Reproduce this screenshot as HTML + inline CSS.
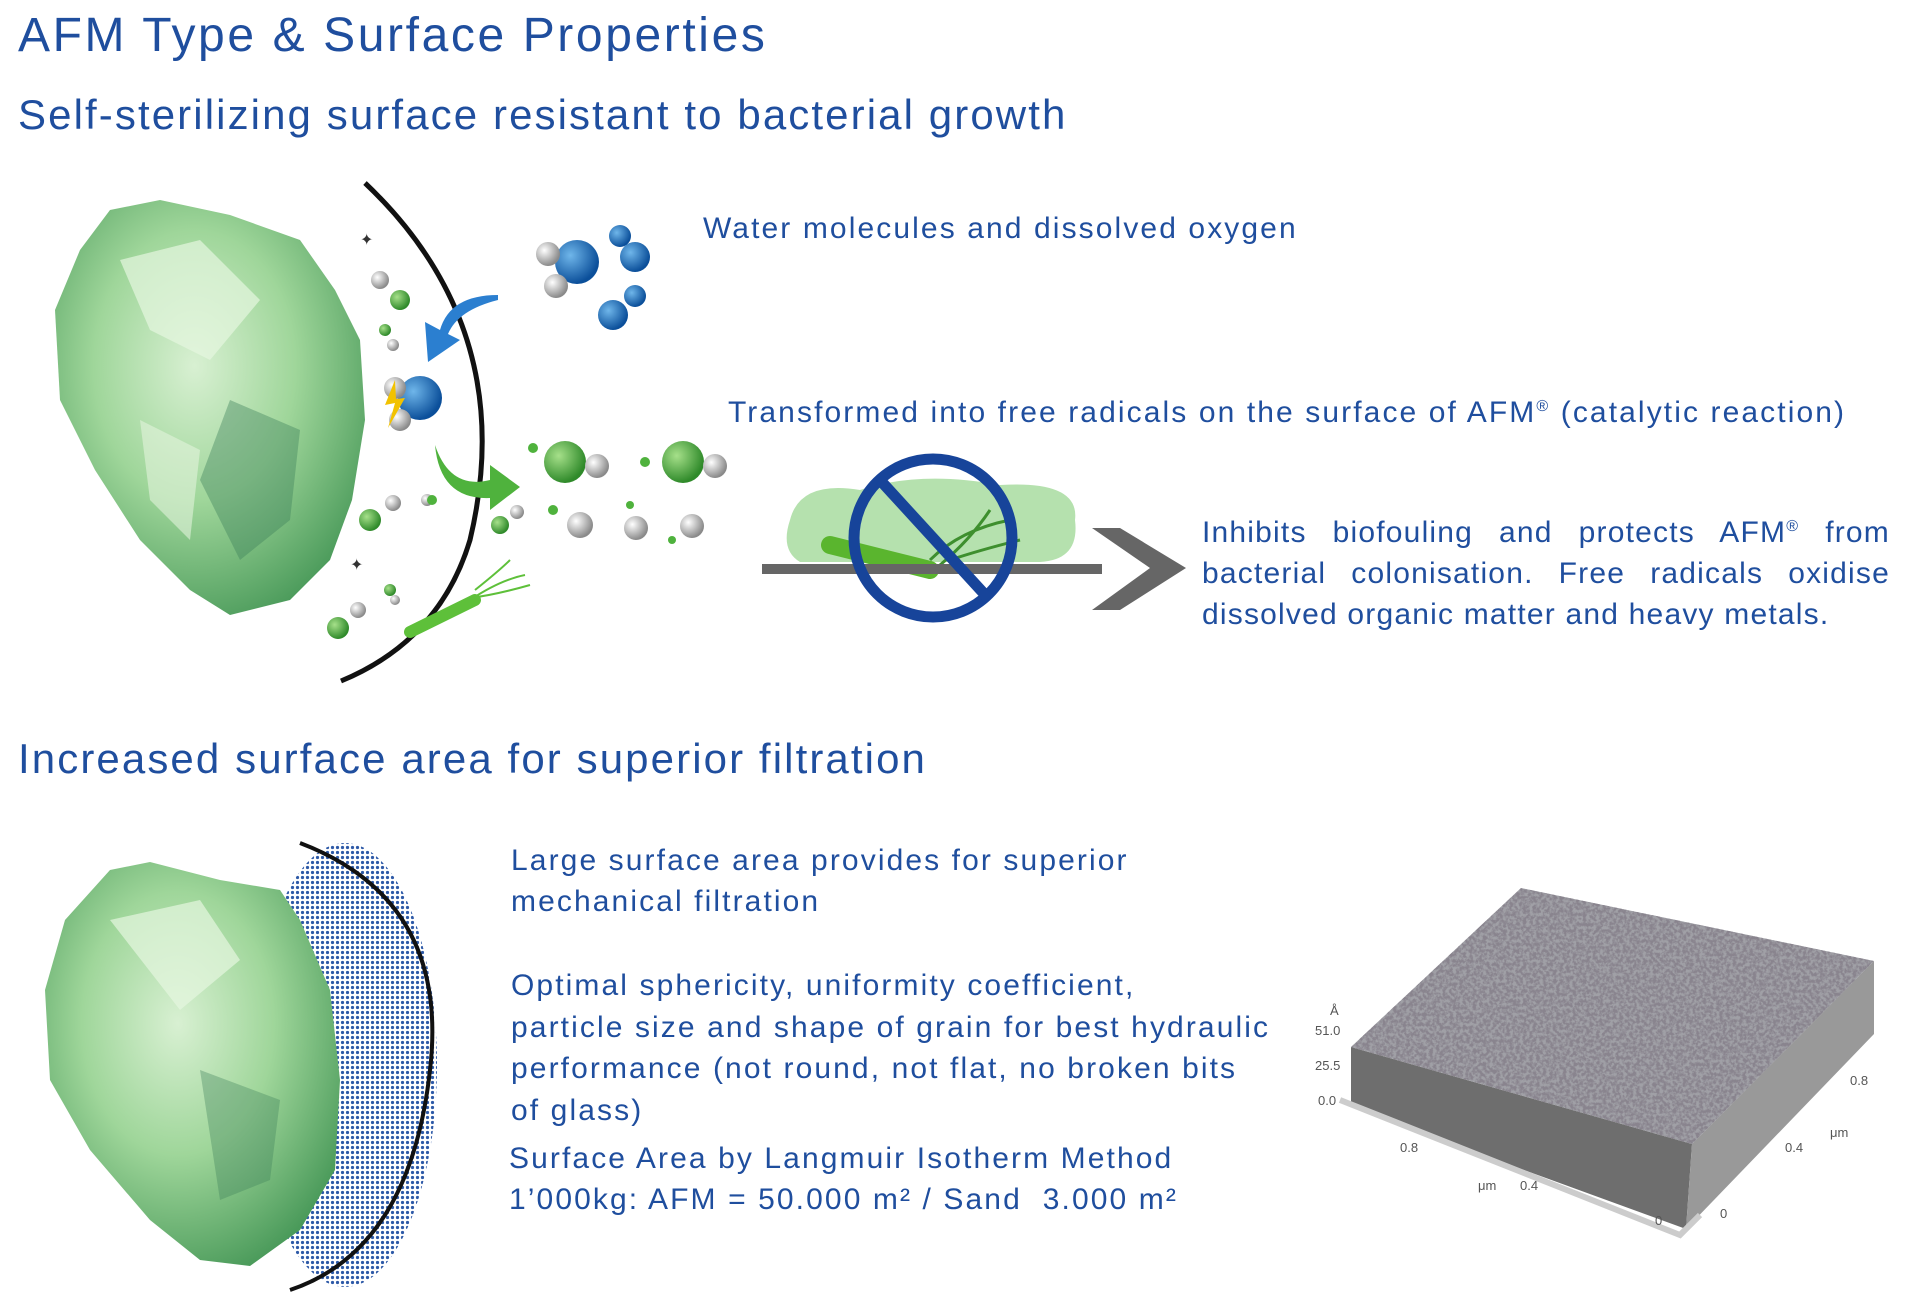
<!DOCTYPE html>
<html><head><meta charset="utf-8"><style>
html,body{margin:0;padding:0;background:#fff;}
body{width:1908px;height:1296px;position:relative;overflow:hidden;font-family:"Liberation Sans",sans-serif;color:#1f4e9e;}
.t{position:absolute;white-space:nowrap;line-height:1;}
.s30{font-size:30px;letter-spacing:2.1px;}
.s42{font-size:42px;letter-spacing:2.1px;}
.j{display:block;width:688px;text-align:justify;text-align-last:justify;white-space:nowrap;}
svg{position:absolute;left:0;top:0;}
</style></head><body>
<svg width="1908" height="1296" viewBox="0 0 1908 1296">
<defs>
<radialGradient id="rock" cx="45%" cy="40%" r="65%">
<stop offset="0" stop-color="#d8f0d2"/><stop offset="0.5" stop-color="#9fd69a"/><stop offset="1" stop-color="#4a9a5a"/></radialGradient>
<radialGradient id="blueb" cx="35%" cy="35%" r="65%"><stop offset="0" stop-color="#6fb6ea"/><stop offset="1" stop-color="#0b4f9a"/></radialGradient>
<radialGradient id="greenb" cx="35%" cy="35%" r="65%"><stop offset="0" stop-color="#a6e08a"/><stop offset="1" stop-color="#2f8a2a"/></radialGradient>
<radialGradient id="greyb" cx="35%" cy="35%" r="65%"><stop offset="0" stop-color="#ffffff"/><stop offset="1" stop-color="#8a8a8a"/></radialGradient>
<pattern id="dots" width="5" height="5" patternUnits="userSpaceOnUse"><rect width="5" height="5" fill="#fff"/><circle cx="2.5" cy="2.5" r="1.6" fill="#2e5aa8"/></pattern>
<filter id="noise" x="0" y="0" width="100%" height="100%"><feTurbulence type="fractalNoise" baseFrequency="0.3" numOctaves="3" seed="3"/><feColorMatrix type="matrix" values="0 0 0 0 0.25  0 0 0 0 0.23  0 0 0 0 0.27  0 0 0 -3.5 2.3"/><feComposite in2="SourceGraphic" operator="in"/></filter>
</defs>
<polygon points="110,210 160,200 230,215 300,240 335,290 360,340 365,420 352,500 330,560 290,600 230,615 190,590 140,540 95,470 60,400 55,310 80,250" fill="url(#rock)"/>
<path d="M120,260 L200,240 L260,300 L210,360 L150,330 Z" fill="#e6f6e0" opacity="0.7"/>
<path d="M230,400 L300,430 L290,520 L240,560 L200,480 Z" fill="#3d7f5a" opacity="0.4"/>
<path d="M140,420 L200,450 L190,540 L150,500 Z" fill="#e2f4dc" opacity="0.6"/>
<path d="M365,183 Q520,330 470,540 Q440,640 341,681" fill="none" stroke="#111" stroke-width="5"/>
<circle cx="577" cy="262" r="22" fill="url(#blueb)"/><circle cx="548" cy="254" r="12" fill="url(#greyb)"/><circle cx="556" cy="286" r="12" fill="url(#greyb)"/>
<circle cx="635" cy="257" r="15" fill="url(#blueb)"/><circle cx="620" cy="236" r="11" fill="url(#blueb)"/>
<circle cx="613" cy="315" r="15" fill="url(#blueb)"/><circle cx="635" cy="296" r="11" fill="url(#blueb)"/>
<path d="M498,295 Q450,295 440,330 L425,322 L428,362 L460,340 L448,334 Q458,310 498,300 Z" fill="#2b7fd0"/>
<circle cx="380" cy="280" r="9" fill="url(#greyb)"/><circle cx="400" cy="300" r="10" fill="url(#greenb)"/>
<circle cx="385" cy="330" r="6" fill="url(#greenb)"/><circle cx="393" cy="345" r="6" fill="url(#greyb)"/>
<circle cx="420" cy="398" r="22" fill="url(#blueb)"/><circle cx="395" cy="388" r="11" fill="url(#greyb)"/><circle cx="400" cy="420" r="11" fill="url(#greyb)"/>
<path d="M395,380 L385,405 L395,403 L388,428 L405,398 L396,399 Z" fill="#f2c200"/>
<path d="M435,445 Q450,490 490,480 L490,465 L520,487 L490,510 L490,498 Q440,500 435,445 Z" fill="#4fb23d"/>
<circle cx="565" cy="462" r="21" fill="url(#greenb)"/><circle cx="597" cy="466" r="12" fill="url(#greyb)"/>
<circle cx="683" cy="462" r="21" fill="url(#greenb)"/><circle cx="715" cy="466" r="12" fill="url(#greyb)"/>
<circle cx="533" cy="448" r="5" fill="#4fb23d"/><circle cx="645" cy="462" r="5" fill="#4fb23d"/>
<circle cx="580" cy="525" r="13" fill="url(#greyb)"/><circle cx="636" cy="528" r="12" fill="url(#greyb)"/><circle cx="692" cy="526" r="12" fill="url(#greyb)"/>
<circle cx="553" cy="510" r="5" fill="#4fb23d"/><circle cx="630" cy="505" r="4" fill="#4fb23d"/><circle cx="672" cy="540" r="4" fill="#4fb23d"/>
<circle cx="370" cy="520" r="11" fill="url(#greenb)"/><circle cx="393" cy="503" r="8" fill="url(#greyb)"/>
<circle cx="427" cy="500" r="6" fill="url(#greyb)"/><circle cx="432" cy="500" r="5" fill="#4fb23d"/>
<circle cx="500" cy="525" r="9" fill="url(#greenb)"/><circle cx="517" cy="512" r="7" fill="url(#greyb)"/>
<circle cx="390" cy="590" r="6" fill="url(#greenb)"/><circle cx="395" cy="600" r="5" fill="url(#greyb)"/>
<circle cx="338" cy="628" r="11" fill="url(#greenb)"/><circle cx="358" cy="610" r="8" fill="url(#greyb)"/>
<text x="360" y="245" font-size="16" fill="#333">✦</text><text x="350" y="570" font-size="16" fill="#333">✦</text>
<path d="M410,632 L475,600" stroke="#5ec03a" stroke-width="12" stroke-linecap="round"/>
<path d="M470,600 Q500,580 525,575 M470,598 Q495,595 530,585 M475,590 Q500,570 510,560" stroke="#5ec03a" stroke-width="2" fill="none"/>
<path d="M790,520 Q800,480 860,490 Q920,470 1000,485 Q1080,480 1075,520 Q1080,560 1040,562 L800,562 Q780,550 790,520 Z" fill="#a8dca0" opacity="0.85"/>
<path d="M830,545 L930,570" stroke="#5ab52e" stroke-width="18" stroke-linecap="round"/>
<path d="M930,560 Q960,530 1010,520 M940,565 Q970,540 990,510 M950,560 Q980,550 1020,540" stroke="#3e8f2e" stroke-width="3" fill="none"/>
<rect x="762" y="564" width="340" height="10" fill="#666"/>
<polygon points="1092,528 1120,528 1186,568 1120,610 1092,610 1150,568" fill="#666"/>
<circle cx="933" cy="538" r="79" fill="none" stroke="#17449a" stroke-width="11"/>
<line x1="880" y1="480" x2="988" y2="598" stroke="#17449a" stroke-width="11"/>
<ellipse cx="345" cy="1065" rx="92" ry="222" fill="url(#dots)"/>
<path d="M300,843 Q450,900 430,1070 Q410,1250 290,1290" fill="none" stroke="#111" stroke-width="4"/>
<polygon points="110,870 150,862 220,880 280,890 300,920 330,990 340,1080 335,1170 300,1230 250,1266 200,1260 150,1220 90,1150 50,1080 45,990 65,920" fill="url(#rock)"/>
<path d="M110,920 L200,900 L240,960 L180,1010 Z" fill="#e6f6e0" opacity="0.7"/>
<path d="M200,1070 L280,1100 L270,1180 L220,1200 Z" fill="#3d7f5a" opacity="0.35"/>
<polygon points="1351,1047 1351,1107 1686,1229 1692,1144" fill="#6e6e6e"/>
<polygon points="1692,1144 1686,1229 1874,1034 1874,961" fill="#999"/>
<polygon points="1351,1047 1521,888 1874,961 1692,1144" fill="#a0a0a6"/>
<polygon points="1351,1047 1521,888 1874,961 1692,1144" fill="#fff" filter="url(#noise)"/>
<polyline points="1340,1100 1680,1235 1700,1215" fill="none" stroke="#ccc" stroke-width="6"/>
<text x="1330" y="1015" font-size="13" fill="#555">Å</text>
<text x="1315" y="1035" font-size="13" fill="#555">51.0</text>
<text x="1315" y="1070" font-size="13" fill="#555">25.5</text>
<text x="1318" y="1105" font-size="13" fill="#555">0.0</text>
<text x="1400" y="1152" font-size="13" fill="#555">0.8</text>
<text x="1478" y="1190" font-size="13" fill="#555">μm</text>
<text x="1520" y="1190" font-size="13" fill="#555">0.4</text>
<text x="1655" y="1225" font-size="13" fill="#555">0</text>
<text x="1720" y="1218" font-size="13" fill="#555">0</text>
<text x="1785" y="1152" font-size="13" fill="#555">0.4</text>
<text x="1830" y="1137" font-size="13" fill="#555">μm</text>
<text x="1850" y="1085" font-size="13" fill="#555">0.8</text>
</svg>
<div class="t" style="left:18px;top:12px;font-size:48px;letter-spacing:2.6px;">AFM Type &amp; Surface Properties</div>
<div class="t s42" style="left:18px;top:94px;">Self-sterilizing surface resistant to bacterial growth</div>
<div class="t s30" style="left:703px;top:214px;">Water molecules and dissolved oxygen</div>
<div class="t s30" style="left:728px;top:398px;">Transformed into free radicals on the surface of AFM<sup style="font-size:16px">®</sup> (catalytic reaction)</div>
<div class="t s30" style="left:1202px;top:512px;line-height:41px;letter-spacing:1.2px;">
<span class="j">Inhibits biofouling and protects AFM<sup style="font-size:16px;line-height:0">®</sup> from</span>
<span class="j">bacterial colonisation. Free radicals oxidise</span>
<span style="display:block">dissolved organic matter and heavy metals.</span></div>
<div class="t s42" style="left:18px;top:738px;">Increased surface area for superior filtration</div>
<div class="t s30" style="left:511px;top:840px;line-height:41px;">Large surface area provides for superior<br>mechanical filtration</div>
<div class="t s30" style="left:511px;top:965px;line-height:41.5px;">Optimal sphericity, uniformity coefficient,<br>particle size and shape of grain for best hydraulic<br>performance (not round, not flat, no broken bits<br>of glass)</div>
<div class="t s30" style="left:509px;top:1138px;line-height:41px;">Surface Area by Langmuir Isotherm Method<br>1’000kg: AFM = 50.000 m² / Sand&nbsp; 3.000 m²</div>
</body></html>
